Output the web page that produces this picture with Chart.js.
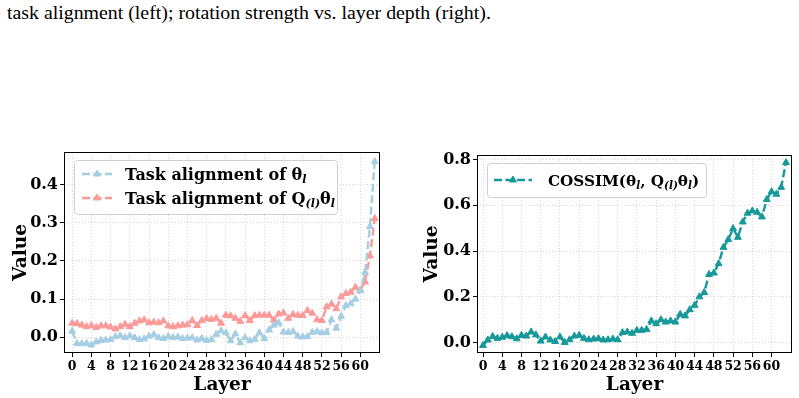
<!DOCTYPE html>
<html><head><meta charset="utf-8">
<script src="https://cdn.jsdelivr.net/npm/chart.js@4"></script>
<style>
body{margin:0;background:#fff;width:799px;height:398px;overflow:hidden;position:relative}
#cap{position:absolute;left:7px;top:1px;font:19.85px "Liberation Serif";white-space:nowrap;color:#000;line-height:22px}
canvas{position:absolute;top:140px}
</style></head><body>
<div id="cap">task alignment (left); rotation strength vs. layer depth (right).</div>
<canvas id="c1" width="400" height="258" style="left:0"></canvas>
<canvas id="c2" width="399" height="258" style="left:400px"></canvas>
<script>
const layers = [0,1,2,3,4,5,6,7,8,9,10,11,12,13,14,15,16,17,18,19,20,21,22,23,24,25,26,27,28,29,30,31,32,33,34,35,36,37,38,39,40,41,42,43,44,45,46,47,48,49,50,51,52,53,54,55,56,57,58,59,60,61,62,63];
const taskAlignTheta = [0.016,-0.016,-0.017,-0.016,-0.02,-0.012,-0.008,-0.007,-0.006,0.002,0.004,-0.001,0.004,-0.001,-0.006,-0.004,0.003,0.007,-0.001,-0.003,0.002,-0.001,0.001,-0.003,-0.002,-0.001,-0.007,-0.003,-0.008,-0.006,0.008,0.017,0.012,-0.009,0.009,-0.014,-0.001,-0.009,-0.005,0.012,-0.003,0.019,0.032,0.038,0.014,0.013,0.015,0.003,0.001,0.002,0.013,0.015,0.012,0.013,0.046,0.024,0.055,0.083,0.088,0.100,0.122,0.170,0.290,0.460];
const taskAlignQTheta = [0.037,0.036,0.032,0.028,0.031,0.026,0.030,0.030,0.027,0.022,0.028,0.034,0.028,0.037,0.043,0.046,0.038,0.040,0.038,0.043,0.030,0.028,0.030,0.032,0.033,0.044,0.031,0.044,0.049,0.047,0.050,0.037,0.058,0.056,0.050,0.042,0.057,0.044,0.057,0.058,0.058,0.058,0.045,0.061,0.064,0.050,0.060,0.058,0.057,0.070,0.063,0.046,0.044,0.080,0.087,0.075,0.106,0.115,0.118,0.131,0.124,0.145,0.213,0.311];
const cosSim = [-0.012,0.012,0.027,0.019,0.024,0.031,0.026,0.017,0.032,0.029,0.047,0.034,0.007,0.025,0.012,0.005,0.025,0.001,0.013,0.029,0.032,0.019,0.013,0.016,0.018,0.012,0.013,0.016,0.013,0.044,0.047,0.041,0.054,0.054,0.058,0.095,0.083,0.100,0.090,0.095,0.090,0.124,0.117,0.144,0.163,0.200,0.219,0.298,0.304,0.345,0.416,0.450,0.498,0.460,0.527,0.565,0.575,0.569,0.549,0.625,0.659,0.648,0.678,0.786];
const xTickValues = [0,4,8,12,16,20,24,28,32,36,40,44,48,52,56,60];
const yTicksLeft = [0.0,0.1,0.2,0.3,0.4];
const yTicksRight = [0.0,0.2,0.4,0.6,0.8];
const seriesColors = ['#a6cee3','#fb9a99','#17999a'];

const SERIF = 'DejaVu Serif';

function seriesData(vals){ return layers.map((l,i)=>({x:l,y:vals[i]})); }
function ds(vals,color){
  return {data:seriesData(vals),borderColor:color,backgroundColor:color,borderWidth:2.4,borderDash:[8,3.5],
    pointStyle:'triangle',pointRadius:4,pointBorderWidth:1,pointBackgroundColor:color,pointBorderColor:color,
    tension:0,fill:false};
}

function drawTri(ctx,x,y,r,color){
  ctx.save();ctx.setLineDash([]);ctx.fillStyle=color;ctx.strokeStyle=color;ctx.lineWidth=1;
  ctx.beginPath();
  ctx.moveTo(x,y-r);ctx.lineTo(x+r*0.866,y+r*0.5);ctx.lineTo(x-r*0.866,y+r*0.5);ctx.closePath();
  ctx.fill();ctx.stroke();ctx.restore();
}
function drawRich(ctx,x,y,parts){
  ctx.fillStyle='#000';ctx.textBaseline='alphabetic';ctx.textAlign='left';
  for(const p of parts){ctx.font=p.f;ctx.fillText(p.t,x,y+(p.dy||0));x+=ctx.measureText(p.t).width;}
}
function roundRect(ctx,x,y,w,h,r){
  ctx.beginPath();ctx.moveTo(x+r,y);ctx.lineTo(x+w-r,y);ctx.quadraticCurveTo(x+w,y,x+w,y+r);
  ctx.lineTo(x+w,y+h-r);ctx.quadraticCurveTo(x+w,y+h,x+w-r,y+h);ctx.lineTo(x+r,y+h);
  ctx.quadraticCurveTo(x,y+h,x,y+h-r);ctx.lineTo(x,y+r);ctx.quadraticCurveTo(x,y,x+r,y);ctx.closePath();
}
const B16='bold 16px "'+SERIF+'"', SUB='italic bold 11px "'+SERIF+'"';
const B15='bold 15.2px "'+SERIF+'"', SUB15='italic bold 10.5px "'+SERIF+'"';
const legendLeft = [
  {color:seriesColors[0],parts:[{t:'Task alignment of θ',f:B16},{t:'l',f:SUB,dy:3}]},
  {color:seriesColors[1],parts:[{t:'Task alignment of Q',f:B16},{t:'(l)',f:SUB,dy:3},{t:'θ',f:B16},{t:'l',f:SUB,dy:3}]}
];
const legendRight = [
  {color:seriesColors[2],parts:[{t:'COSSIM(θ',f:B15},{t:'l',f:SUB15,dy:3},{t:', Q',f:B15},{t:'(l)',f:SUB15,dy:3},{t:'θ',f:B15},{t:'l',f:SUB15,dy:3},{t:')',f:B15}]}
];

function framePlugin(leg){
  return {id:'frame',afterDraw(chart){
    const ctx=chart.ctx,a=chart.chartArea;
    ctx.save();ctx.setLineDash([]);ctx.strokeStyle='#000';ctx.lineWidth=1;
    ctx.strokeRect(Math.round(a.left)+0.5,Math.round(a.top)+0.5,Math.round(a.right-a.left)-1,Math.round(a.bottom-a.top)-1);
    ctx.fillStyle='rgba(255,255,255,0.9)';ctx.strokeStyle='#d0d0d0';
    roundRect(ctx,leg.x+0.5,leg.y+0.5,leg.w,leg.h,3);ctx.fill();ctx.stroke();
    leg.items.forEach((it,k)=>{
      const cy=leg.y+leg.row0+k*leg.rowH;
      ctx.save();ctx.strokeStyle=it.color;ctx.lineWidth=2.4;ctx.setLineDash([8,3.5]);
      ctx.beginPath();ctx.moveTo(leg.x+leg.lx0,cy);ctx.lineTo(leg.x+leg.lx1,cy);ctx.stroke();ctx.restore();
      drawTri(ctx,leg.x+(leg.lx0+leg.lx1)/2,cy,4,it.color);
      drawRich(ctx,leg.x+leg.tx,cy+5.5,it.parts);
    });
    ctx.restore();
  }};
}

function opts(c){
  return {
    responsive:false,animation:false,events:[],
    layout:{padding:{left:0,right:c.padR,top:c.padT,bottom:0}},
    plugins:{legend:{display:false},tooltip:{enabled:false}},
    scales:{
      x:{type:'linear',min:c.xmin,max:c.xmax,
        afterBuildTicks:s=>{s.ticks=xTickValues.map(v=>({value:v}));},
        afterFit:s=>{s.height=c.xH;},
        ticks:{font:{family:SERIF,weight:'bold',size:12.5},color:'#000',padding:2,maxRotation:0,autoSkip:false,callback:v=>String(v)},
        grid:{color:'#cccccc',lineWidth:0.8,tickColor:'#000',tickLength:4,tickWidth:1,tickBorderDash:[]},
        border:{display:false,dash:[1,2]},
        title:{display:true,text:'Layer',color:'#000',font:{family:SERIF,weight:'bold',size:18.5},padding:{top:0,bottom:2}}
      },
      y:{type:'linear',min:c.ymin,max:c.ymax,
        afterBuildTicks:s=>{s.ticks=c.yTicks.map(v=>({value:v}));},
        afterFit:s=>{s.width=c.yW;},
        ticks:{font:{family:SERIF,weight:'bold',size:16},color:'#000',padding:2,callback:v=>v.toFixed(1)},
        grid:{color:'#cccccc',lineWidth:0.8,tickColor:'#000',tickLength:4,tickWidth:1,tickBorderDash:[]},
        border:{display:false,dash:[1,2]},
        title:{display:true,text:'Value',color:'#000',font:{family:SERIF,weight:'bold',size:18.5},padding:{top:c.yTitlePad,bottom:0}}
      }
    }
  };
}

new Chart(document.getElementById('c1'),{
  type:'line',
  data:{datasets:[ds(taskAlignTheta,seriesColors[0]),ds(taskAlignQTheta,seriesColors[1])]},
  options:opts({padR:20,padT:12,xH:45,yW:64,xmin:-1.7,xmax:64.1,ymin:-0.041,ymax:0.485,yTicks:yTicksLeft,yTitlePad:10}),
  plugins:[framePlugin({x:74,y:20,w:263,h:54,row0:14,rowH:24,lx0:8,lx1:38,tx:51,items:legendLeft})]
});
new Chart(document.getElementById('c2'),{
  type:'line',
  data:{datasets:[ds(cosSim,seriesColors[2])]},
  options:opts({padR:7,padT:15,xH:45,yW:77,xmin:-1.25,xmax:64.25,ymin:-0.045,ymax:0.819,yTicks:yTicksRight,yTitlePad:21}),
  plugins:[framePlugin({x:87,y:23,w:219,h:34,row0:17,rowH:24,lx0:7,lx1:45,tx:61,items:legendRight})]
});
</script>
</body></html>
